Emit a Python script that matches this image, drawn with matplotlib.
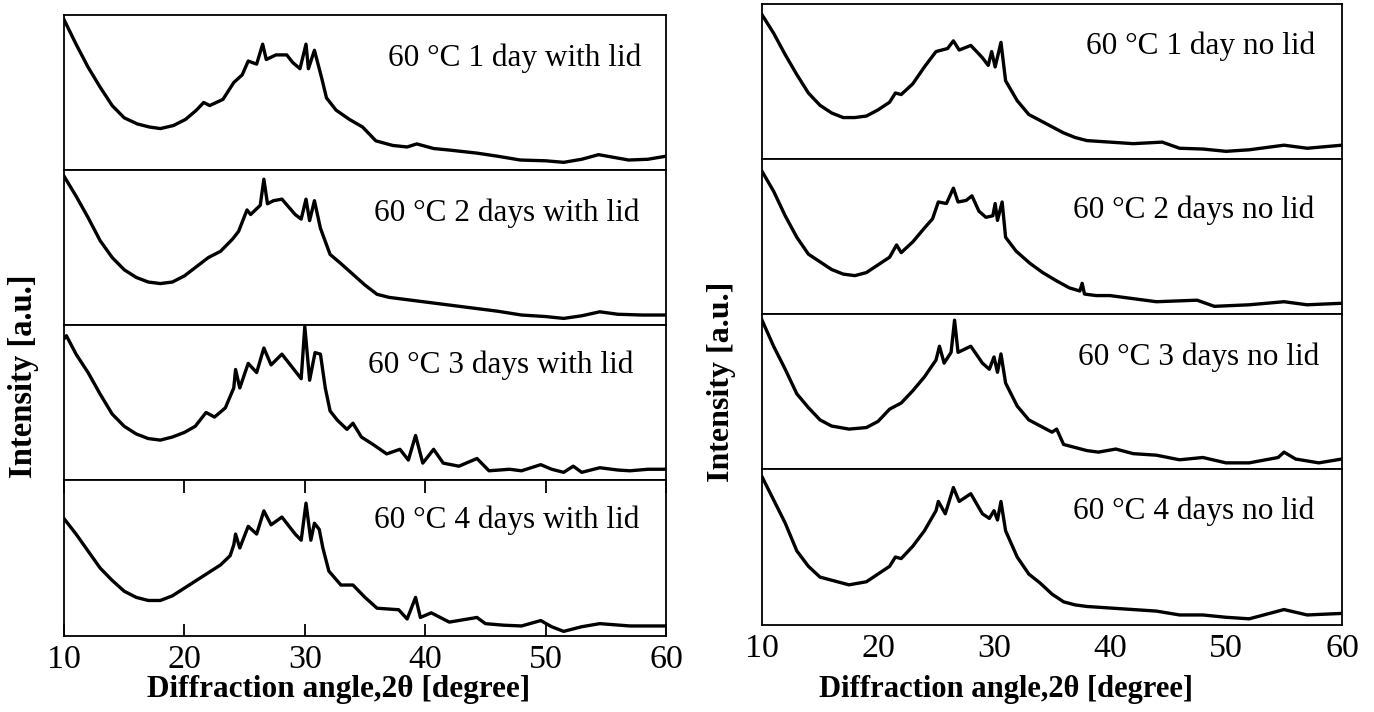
import matplotlib
matplotlib.use("Agg")
import matplotlib.pyplot as plt

plt.rcParams['font.family'] = ['Liberation Serif', 'DejaVu Serif']

# --- data (normalised intensity, 0 = bottom, 1 = top of each strip) ---
lid1_x = [10, 11, 12, 13, 14, 15, 16.1, 17.1, 18, 19.1, 20.1, 21, 21.6, 22.1, 23.2, 24.1, 24.8, 25.3, 26, 26.5, 26.8, 27.6, 28.5, 29, 29.6, 30.1, 30.3, 30.8, 31.4, 31.8, 32.6, 33.7, 34.8, 35.9, 37.3, 38.5, 39.3, 40.7, 42, 44.3, 46, 47.9, 50, 51.5, 53, 54.4, 56.9, 58.5, 60]
lid1_y = [0.98, 0.82, 0.67, 0.54, 0.42, 0.34, 0.30, 0.28, 0.27, 0.29, 0.33, 0.39, 0.44, 0.42, 0.46, 0.57, 0.62, 0.71, 0.69, 0.82, 0.72, 0.75, 0.75, 0.70, 0.66, 0.82, 0.66, 0.78, 0.60, 0.47, 0.39, 0.33, 0.28, 0.19, 0.16, 0.15, 0.17, 0.14, 0.13, 0.11, 0.09, 0.065, 0.06, 0.05, 0.07, 0.10, 0.065, 0.07, 0.09]

lid2_x = [10, 11, 12, 13, 14, 15, 16, 17, 18, 19, 20, 21, 22, 23, 24, 24.5, 25.2, 25.5, 26.3, 26.6, 26.9, 27.4, 28.1, 29.2, 29.7, 30.1, 30.4, 30.8, 31.3, 32.1, 33, 34, 35, 36, 37, 38, 40, 42, 44, 46, 48, 50, 51.5, 53, 54.5, 56, 58, 60]
lid2_y = [0.97, 0.84, 0.70, 0.55, 0.44, 0.36, 0.31, 0.28, 0.27, 0.28, 0.32, 0.38, 0.44, 0.48, 0.56, 0.61, 0.75, 0.72, 0.78, 0.95, 0.79, 0.81, 0.82, 0.72, 0.69, 0.82, 0.68, 0.81, 0.63, 0.46, 0.40, 0.33, 0.26, 0.20, 0.18, 0.17, 0.15, 0.13, 0.11, 0.09, 0.065, 0.055, 0.043, 0.06, 0.086, 0.07, 0.065, 0.065]

lid3_x = [10, 10.2, 11, 12, 13, 14, 15, 16, 17, 18, 19, 20, 20.9, 21.8, 22.5, 23.4, 24.1, 24.25, 24.6, 25.3, 26, 26.6, 27.2, 28.1, 29.2, 29.7, 30.0, 30.4, 30.85, 31.3, 31.7, 32.1, 32.7, 33.5, 34, 34.7, 35.7, 36.8, 37.9, 38.6, 39.2, 39.8, 40.7, 41.5, 42.8, 44.3, 45.3, 47, 48, 49.6, 50.5, 51.5, 52.3, 53, 54.5, 56, 57, 58.5, 60]
lid3_y = [0.92, 0.94, 0.82, 0.70, 0.56, 0.43, 0.35, 0.30, 0.27, 0.26, 0.28, 0.31, 0.35, 0.44, 0.41, 0.47, 0.60, 0.72, 0.60, 0.76, 0.70, 0.86, 0.75, 0.82, 0.71, 0.66, 1.00, 0.65, 0.83, 0.82, 0.60, 0.45, 0.39, 0.33, 0.37, 0.28, 0.23, 0.17, 0.20, 0.13, 0.29, 0.11, 0.20, 0.11, 0.09, 0.14, 0.06, 0.07, 0.06, 0.10, 0.07, 0.05, 0.09, 0.05, 0.08, 0.065, 0.06, 0.07, 0.07]

lid4_x = [10, 11, 12, 13, 14, 15, 16, 17, 18, 19, 20, 21, 22, 23, 23.8, 24.1, 24.25, 24.6, 25.3, 26, 26.6, 27.2, 28.1, 29.2, 29.7, 30.1, 30.5, 30.8, 31.2, 31.5, 32, 33, 34, 35, 36, 37.8, 38.5, 39.2, 39.6, 40.5, 42, 44.3, 45, 46.5, 48, 49.6, 50.5, 51.5, 53, 54.5, 57, 60]
lid4_y = [0.76, 0.66, 0.55, 0.44, 0.36, 0.29, 0.25, 0.23, 0.23, 0.26, 0.31, 0.36, 0.41, 0.46, 0.52, 0.59, 0.66, 0.57, 0.71, 0.66, 0.81, 0.72, 0.77, 0.66, 0.62, 0.86, 0.62, 0.73, 0.69, 0.57, 0.42, 0.33, 0.33, 0.25, 0.18, 0.17, 0.11, 0.25, 0.12, 0.15, 0.09, 0.12, 0.08, 0.07, 0.065, 0.10, 0.06, 0.03, 0.06, 0.08, 0.065, 0.065]

nolid1_x = [10, 11, 12, 13, 14, 15, 16, 17, 18, 19, 20, 21, 21.5, 22, 23, 24, 25, 26, 26.5, 27, 28, 29, 29.5, 29.8, 30.1, 30.6, 31, 32, 33, 34, 35, 36, 37, 38, 40, 42, 44.5, 46, 48, 50, 52, 53, 55, 57, 60]
nolid1_y = [0.94, 0.82, 0.68, 0.55, 0.43, 0.35, 0.30, 0.27, 0.27, 0.28, 0.32, 0.37, 0.43, 0.42, 0.49, 0.60, 0.70, 0.72, 0.77, 0.71, 0.74, 0.66, 0.61, 0.70, 0.60, 0.76, 0.51, 0.38, 0.29, 0.25, 0.21, 0.17, 0.14, 0.12, 0.11, 0.10, 0.11, 0.07, 0.065, 0.05, 0.06, 0.07, 0.09, 0.07, 0.09]

nolid2_x = [10, 11, 12, 13, 14, 15, 16, 17, 18, 19, 20, 21, 21.6, 22, 23, 24, 24.7, 25.2, 25.9, 26.5, 26.9, 27.6, 28.1, 28.7, 29.3, 29.9, 30.1, 30.3, 30.7, 31, 31.9, 33.1, 34.2, 35.3, 36.5, 37.4, 37.6, 37.8, 38.8, 40, 42, 44, 47.5, 49, 52, 55, 57, 60]
nolid2_y = [0.93, 0.80, 0.64, 0.50, 0.39, 0.34, 0.29, 0.26, 0.25, 0.27, 0.32, 0.37, 0.45, 0.40, 0.47, 0.56, 0.62, 0.73, 0.72, 0.82, 0.73, 0.74, 0.77, 0.67, 0.63, 0.64, 0.72, 0.61, 0.73, 0.50, 0.41, 0.33, 0.27, 0.22, 0.17, 0.15, 0.20, 0.13, 0.12, 0.12, 0.10, 0.08, 0.09, 0.05, 0.06, 0.08, 0.06, 0.07]

nolid3_x = [10, 11, 12, 13, 14, 15, 16, 17.5, 19, 20, 21, 22, 23, 24, 25, 25.3, 25.7, 26.3, 26.6, 26.9, 28, 29, 29.6, 30, 30.3, 30.6, 31, 32, 33, 34, 35, 35.4, 36, 37, 38, 39, 40.5, 42, 44, 46, 48, 50, 52, 54.5, 55, 56, 58, 60]
nolid3_y = [0.97, 0.80, 0.65, 0.49, 0.40, 0.32, 0.28, 0.26, 0.27, 0.31, 0.39, 0.43, 0.51, 0.60, 0.71, 0.80, 0.69, 0.76, 0.97, 0.76, 0.80, 0.69, 0.65, 0.73, 0.63, 0.75, 0.56, 0.41, 0.32, 0.28, 0.24, 0.26, 0.16, 0.14, 0.12, 0.11, 0.13, 0.10, 0.09, 0.06, 0.075, 0.04, 0.04, 0.075, 0.11, 0.065, 0.04, 0.065]

nolid4_x = [10, 11, 12, 13, 14, 15, 16, 17.5, 19, 20, 21, 21.5, 22, 23, 24, 25, 25.2, 25.8, 26.5, 27, 28, 29, 29.6, 30, 30.3, 30.6, 31, 32, 33, 34, 35, 36, 37, 38, 40, 42, 44, 46, 48, 50, 52, 53.5, 55, 57, 60]
nolid4_y = [0.96, 0.81, 0.66, 0.48, 0.38, 0.31, 0.29, 0.26, 0.28, 0.33, 0.38, 0.44, 0.43, 0.51, 0.61, 0.74, 0.80, 0.72, 0.89, 0.80, 0.85, 0.72, 0.69, 0.74, 0.68, 0.80, 0.61, 0.44, 0.33, 0.27, 0.20, 0.15, 0.13, 0.12, 0.11, 0.10, 0.09, 0.065, 0.065, 0.05, 0.04, 0.07, 0.10, 0.065, 0.075]

lid_labels = ["60 °C 1 day with lid", "60 °C 2 days with lid", "60 °C 3 days with lid", "60 °C 4 days with lid"]
nolid_labels = ["60 °C 1 day no lid", "60 °C 2 days no lid", "60 °C 3 days no lid", "60 °C 4 days no lid"]
xticks = [10, 20, 30, 40, 50, 60]

lid_series = [(lid1_x, lid1_y), (lid2_x, lid2_y), (lid3_x, lid3_y), (lid4_x, lid4_y)]
nolid_series = [(nolid1_x, nolid1_y), (nolid2_x, nolid2_y), (nolid3_x, nolid3_y), (nolid4_x, nolid4_y)]

W, H = 1374, 712
fig = plt.figure(figsize=(W / 100, H / 100), dpi=100)


def draw_stack(left, width, edges, series, labels, label_pos, ticks_on):
  for i in range(4):
    top, bot = edges[i], edges[i + 1]
    ax = fig.add_axes([left, bot, width, top - bot])
    xs, ys = series[i]
    ax.plot(xs, ys, color='black', lw=2.4, solid_joinstyle='round')
    ax.set_xlim(10, 60)
    ax.set_ylim(0, 1.01)
    ax.set_yticks([])
    for s in ax.spines.values():
      s.set_linewidth(1.3)
    ax.text(label_pos[i][0], label_pos[i][1], labels[i], transform=ax.transAxes,
            ha='center', va='center', fontsize=22.5)
    if i < 3:
      ax.set_xticks([])
    else:
      ax.set_xticks(xticks)
      ax.tick_params(axis='x', direction='in', length=9 if ticks_on else 0, width=1.3,
                     top=ticks_on, labelsize=24.5, pad=6)


left_edges = [1 - 15 / H, 1 - 170 / H, 1 - 325 / H, 1 - 480 / H, 1 - 636 / H]
right_edges = [1 - 4 / H, 1 - 159 / H, 1 - 314 / H, 1 - 469 / H, 1 - 625 / H]

draw_stack(64 / W, 602 / W, left_edges, lid_series, lid_labels,
           [(0.749, 0.72), (0.736, 0.72), (0.726, 0.74), (0.736, 0.74)], True)
draw_stack(762 / W, 580 / W, right_edges, nolid_series, nolid_labels,
           [(0.757, 0.73), (0.745, 0.67), (0.753, 0.72), (0.745, 0.73)], False)

fig.text(339 / W, 1 - 690 / H, "Diffraction angle,2θ [degree]", ha='center', va='center',
         fontsize=22.5, fontweight='bold')
fig.text(1006 / W, 1 - 689 / H, "Diffraction angle,2θ [degree]", ha='center', va='center',
         fontsize=22, fontweight='bold')
fig.text(24 / W, 1 - 376 / H, "Intensity [a.u.]", rotation=90, ha='center', va='center',
         fontsize=23.5, fontweight='bold')
fig.text(721 / W, 1 - 382 / H, "Intensity [a.u.]", rotation=90, ha='center', va='center',
         fontsize=23, fontweight='bold')

fig.savefig("out.png", dpi=100)
